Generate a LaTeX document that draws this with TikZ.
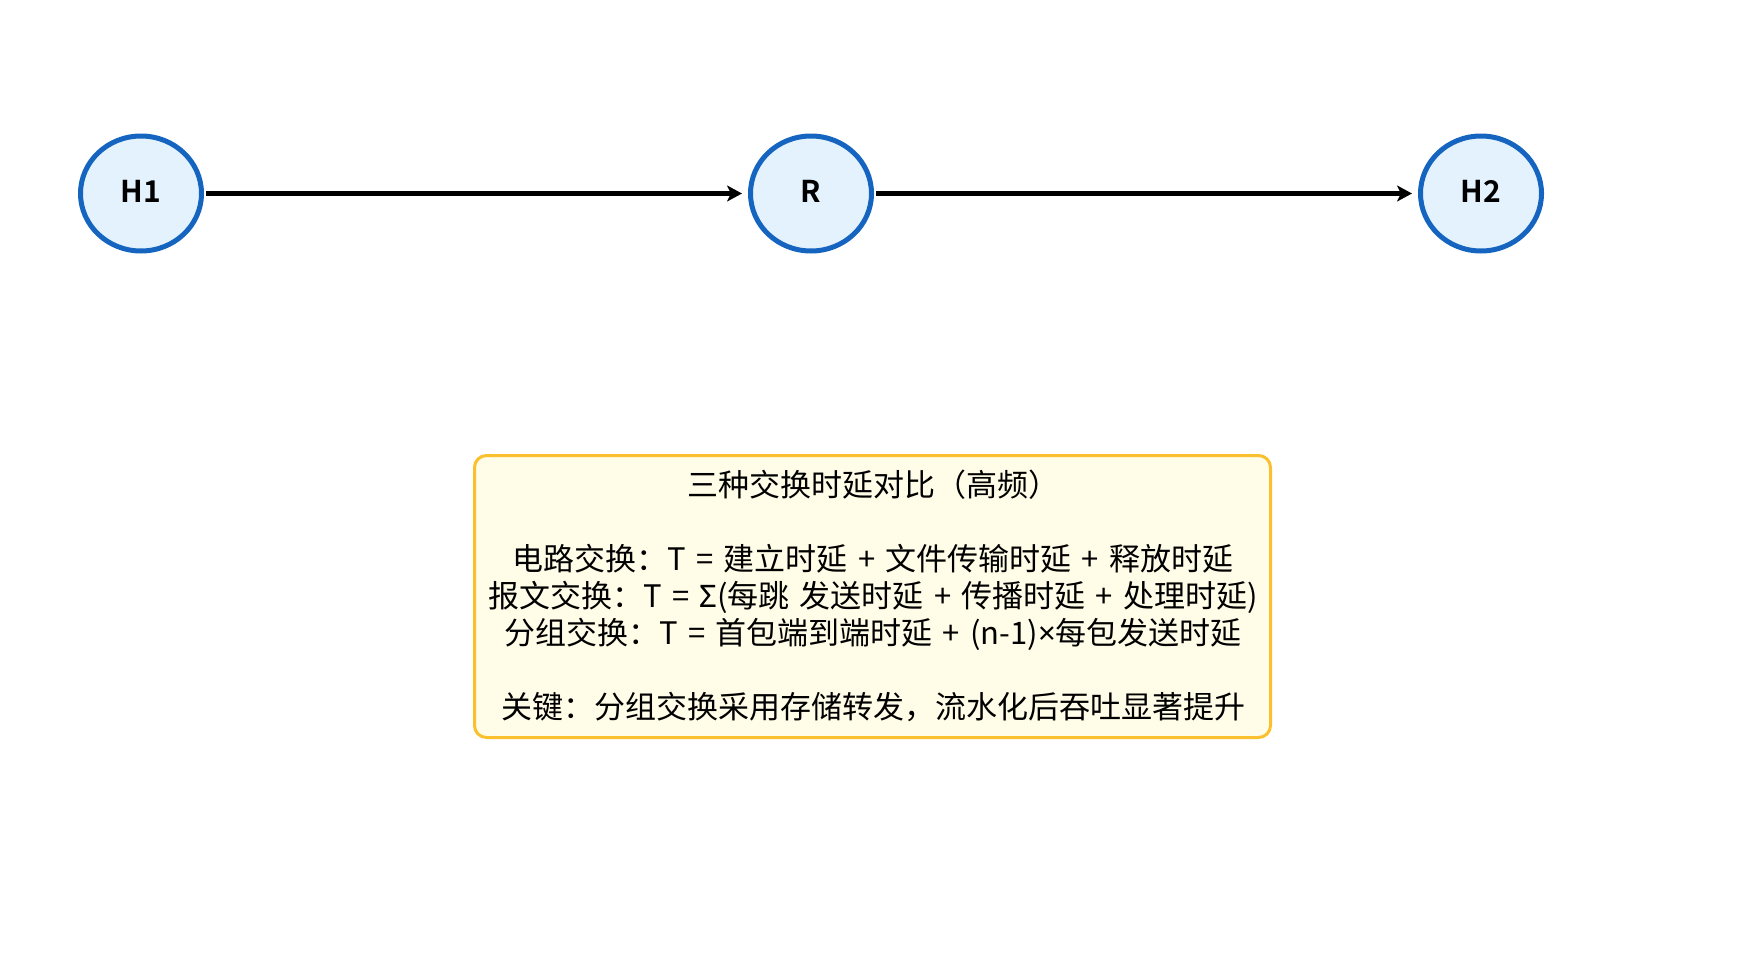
\documentclass[tikz,border=0pt]{standalone}
\usepackage{fontspec}
\setmainfont{Noto Sans CJK SC}
\newfontfamily\cjkbold{Noto Sans CJK SC Bold}
\newfontfamily\latinsym{Noto Sans}
\newcommand\mywidespace{\spaceskip=0.33em plus 0.1em\relax}
\usetikzlibrary{shapes.geometric,arrows.meta}
\definecolor{nodeblue}{HTML}{1565C0}
\definecolor{nodefill}{HTML}{E3F2FD}
\definecolor{boxedge}{HTML}{FBC02D}
\definecolor{boxfill}{HTML}{FFFDE7}
\tikzset{
  hostnode/.style={ellipse, draw=nodeblue, fill=nodefill, line width=5pt,
    minimum width=121pt, minimum height=115pt, inner sep=0pt,
    font=\cjkbold\fontsize{30}{34}\selectfont, text=black},
  link/.style={line width=5.2pt, -{Stealth[length=15pt,width=16pt,inset=4pt]},
    shorten >=6pt, shorten <=2pt},
  notebox/.style={draw=boxedge, fill=boxfill, line width=3pt, rounded corners=12pt,
    minimum width=796pt, minimum height=282pt, inner sep=0pt},
  notetext/.style={align=center, font=\fontsize{31}{36.9}\selectfont\mywidespace, text=black}
}
\begin{document}
\begin{tikzpicture}[x=1pt,y=-1pt]
\useasboundingbox (0,0) rectangle (1745,964);
\node[hostnode] (h1) at (141,193.5) {\raisebox{5pt}{H1}};
\node[hostnode] (r) at (811,193.5) {\raisebox{5pt}{R}};
\node[hostnode] (h2) at (1481,193.5) {\raisebox{5pt}{H2}};
\draw[link] (h1) -- (r);
\draw[link] (r) -- (h2);
\node[notebox] (box) at (872.5,596.5) {};
\node[notetext] (txt) at (873,596) {三种交换时延对比（高频）\\[0pt]
\mbox{}\\
电路交换：T = 建立时延 + 文件传输时延 + 释放时延\\
报文交换：T = {\latinsym Σ}(每跳 发送时延 + 传播时延 + 处理时延)\\
分组交换：T = 首包端到端时延 + (n-1){\latinsym ×}每包发送时延\\
\mbox{}\\
关键：分组交换采用存储转发，流水化后吞吐显著提升};
\end{tikzpicture}
\end{document}
